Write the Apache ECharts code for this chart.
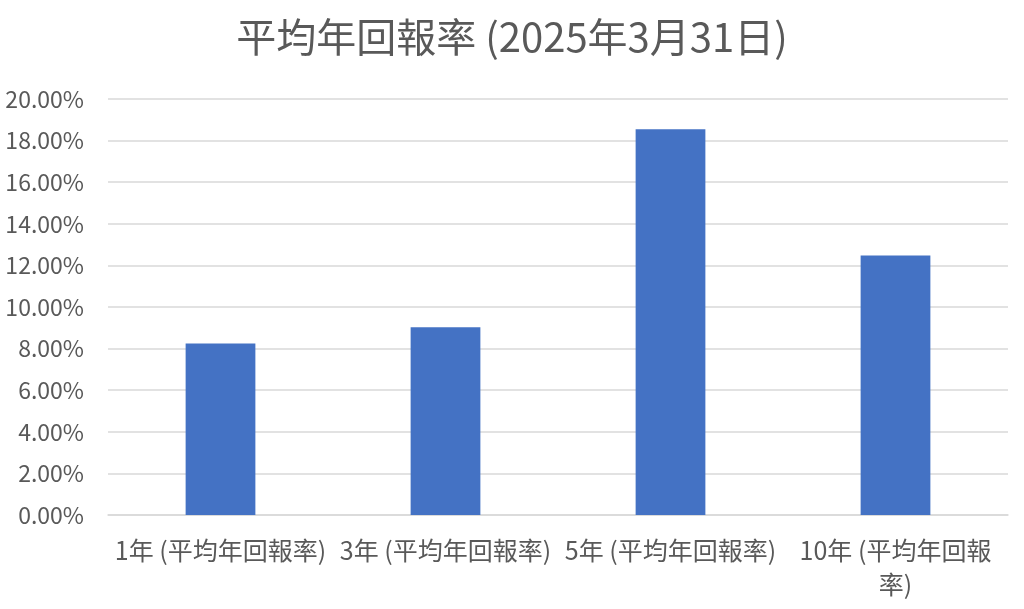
<!DOCTYPE html>
<html>
<head>
<meta charset="utf-8">
<script src="https://cdn.jsdelivr.net/npm/echarts@6/dist/echarts.min.js"></script>
<style>html,body{margin:0;padding:0;background:#fff}#c{width:1024px;height:609px}</style>
</head>
<body>
<div id="c"></div>
<script>
const titleText = '平均年回報率 (2025年3月31日)';
const categories = ['1年 (平均年回報率)', '3年 (平均年回報率)', '5年 (平均年回報率)', '10年 (平均年回報率)'];
const values = [0.0824, 0.0903, 0.1855, 0.1248];
const yMin = 0, yMax = 0.20, yInterval = 0.02;

const font = '"Noto Sans CJK TC", "Noto Sans", sans-serif';
const chart = echarts.init(document.getElementById('c'), null, {renderer: 'canvas'});
// Excel wraps the longest label after "報"; narrower wrap box for labels that overflow the category.
const xData = categories.map(c => c.length > 11 ? {value: c, textStyle: {width: 205, overflow: 'break'}} : c);
chart.setOption({
  animation: false,
  backgroundColor: '#ffffff',
  title: {
    text: titleText,
    left: 'center',
    top: 12,
    textStyle: {fontFamily: font, fontSize: 40, fontWeight: 'normal', color: '#595959'}
  },
  grid: {left: 108, right: 16, top: 99, bottom: 94, containLabel: false},
  xAxis: {
    type: 'category',
    data: xData,
    axisLine: {show: true, lineStyle: {color: '#d9d9d9', width: 1.5}},
    axisTick: {show: false},
    axisLabel: {
      interval: 0,
      margin: 18,
      fontFamily: font,
      fontSize: 25,
      color: '#595959',
      width: 225,
      overflow: 'break',
      lineHeight: 34
    }
  },
  yAxis: {
    type: 'value',
    min: yMin,
    max: yMax,
    interval: yInterval,
    axisLine: {show: false},
    axisTick: {show: false},
    splitLine: {lineStyle: {color: '#d9d9d9', width: 1.5}},
    axisLabel: {
      margin: 24,
      fontFamily: font,
      fontSize: 23,
      color: '#595959',
      formatter: v => (v * 100).toFixed(2) + '%'
    }
  },
  series: [{
    type: 'bar',
    data: values,
    barWidth: '31%',
    itemStyle: {color: '#4472C4'}
  }]
});
</script>
</body>
</html>
